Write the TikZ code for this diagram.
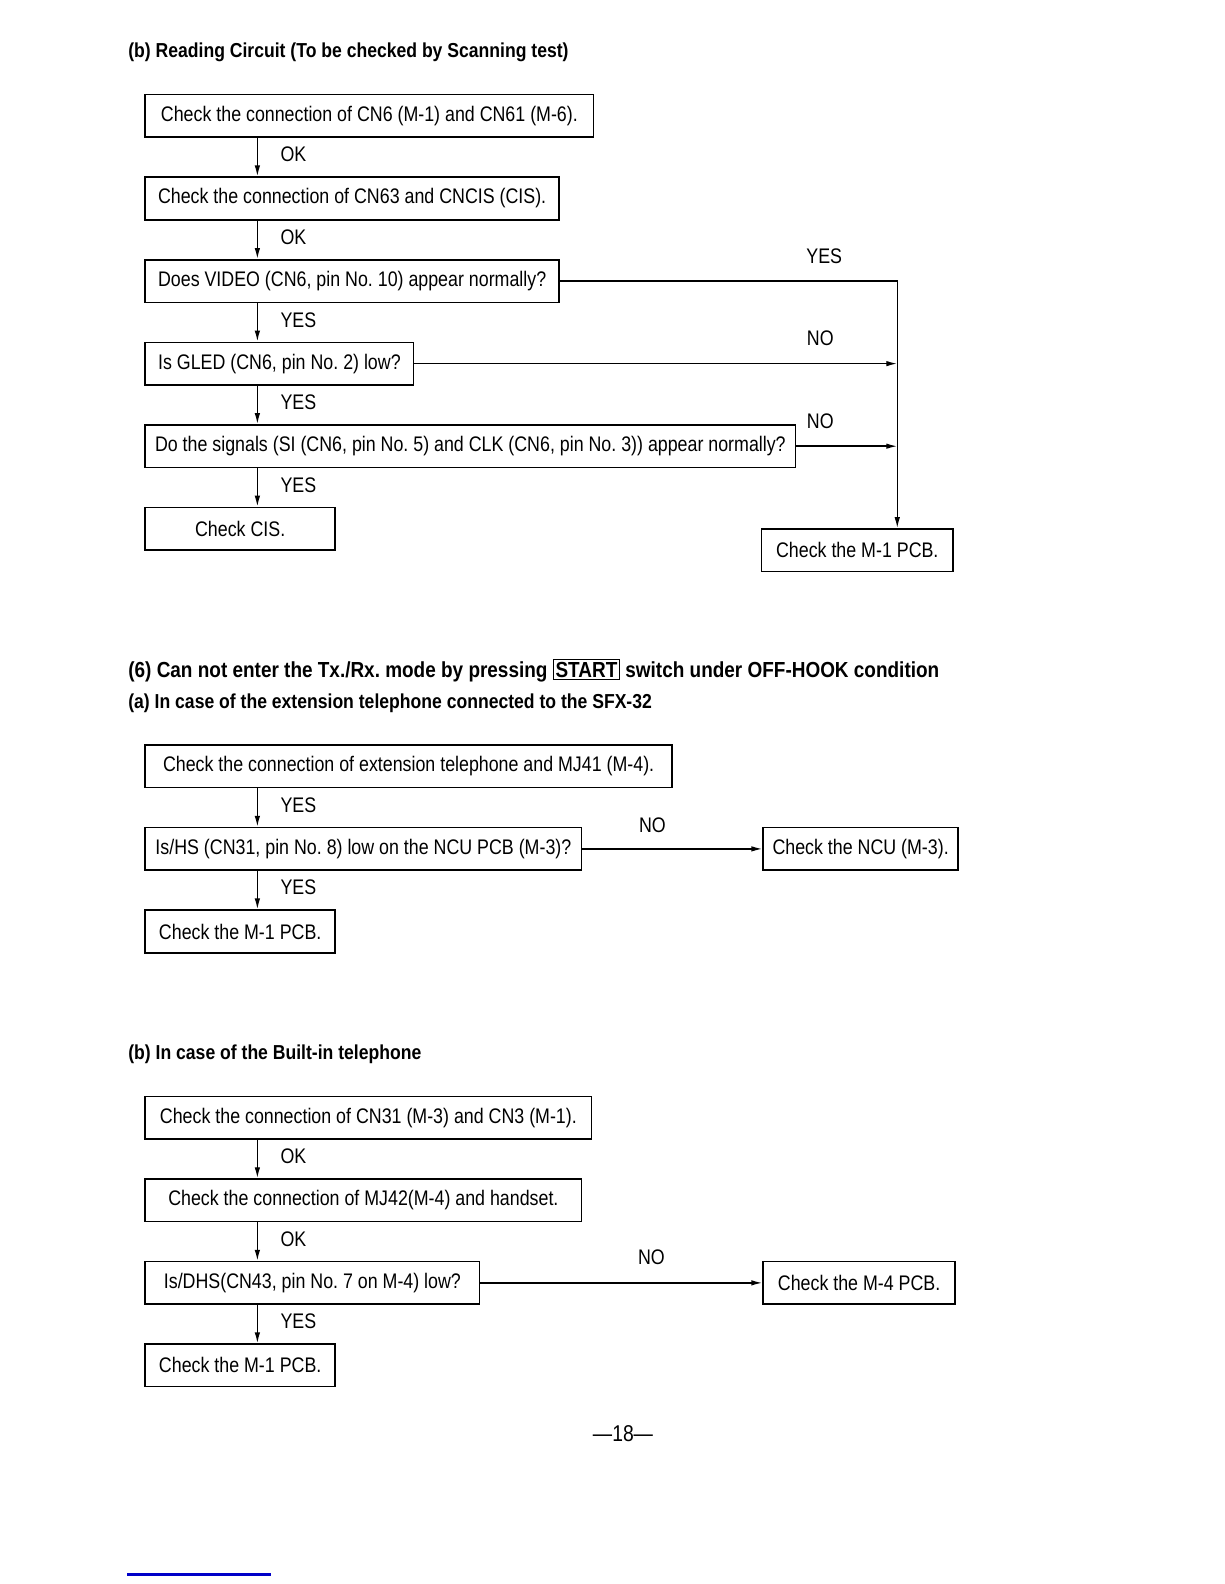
\documentclass[tikz,border=0pt]{standalone}
\usepackage{fontspec}
\setmainfont[FakeStretch=0.845]{Liberation Sans}
\newfontfamily\headfam[FakeStretch=0.87]{Liberation Sans}
\usetikzlibrary{arrows.meta, positioning}
\definecolor{rulerblue}{RGB}{0,0,200}
\newcommand{\boxfont}{\fontsize{12}{14}\selectfont}
\newcommand{\headfont}{\headfam\fontsize{11.5}{14}\selectfont\bfseries}
\newcommand{\bigheadfont}{\headfam\fontsize{12.4}{15}\selectfont\bfseries}
\tikzset{
  box/.style={draw, line width=0.9pt, anchor=north west, minimum height=0.85cm,
    inner xsep=0.1cm, inner ysep=0pt, font=\boxfont},
  arr/.style={line width=0.8pt, -{Latex[length=2.2mm, width=1.1mm]}},
  lbl/.style={font=\boxfont, inner sep=0pt},
  head/.style={anchor=west, inner sep=0pt},
}

\begin{document}
\frenchspacing
\begin{tikzpicture}[x=0.02cm, y=-0.02cm]
  \useasboundingbox (0,0) rectangle (1224,1584);

  % (b) reading circuit
  \node[head, font=\headfont] (t1) at (128,52.5) {(b) Reading Circuit (To be checked by Scanning test)};
  \node[box, minimum width=8.97cm] (b1) at (144.4,93.9) {Check the connection of CN6 (M-1) and CN61 (M-6).};
  \node[box, minimum width=8.28cm, below right=0.77cm and 0cm of b1.south west] (b2) {Check the connection of CN63 and CNCIS (CIS).};
  \node[box, minimum width=8.28cm, below right=0.77cm and 0cm of b2.south west] (b3) {Does VIDEO (CN6, pin No. 10) appear normally?};
  \node[box, minimum width=5.37cm, below right=0.77cm and 0cm of b3.south west] (b4) {Is GLED (CN6, pin No. 2) low?};
  \node[box, minimum width=13.01cm, below right=0.77cm and 0cm of b4.south west] (b5) {Do the signals (SI (CN6, pin No. 5) and CLK (CN6, pin No. 3)) appear normally?};
  \node[box, minimum width=3.80cm, below right=0.77cm and 0cm of b5.south west] (b6) {Check CIS.};
  \node[box, minimum width=3.84cm] (b7) at (760.5,528.2) {Check the M-1 PCB.};
  \coordinate (rail) at ([xshift=0.8cm]b7.north);

  \draw[arr] ([xshift=2.26cm]b1.south west) -- ([xshift=2.26cm]b2.north west)
    node[lbl, midway, right=0.45cm, yshift=0.05cm] {OK};
  \draw[arr] ([xshift=2.26cm]b2.south west) -- ([xshift=2.26cm]b3.north west)
    node[lbl, midway, right=0.45cm, yshift=0.05cm] {OK};
  \draw[arr] ([xshift=2.26cm]b3.south west) -- ([xshift=2.26cm]b4.north west)
    node[lbl, midway, right=0.45cm, yshift=0.05cm] {YES};
  \draw[arr] ([xshift=2.26cm]b4.south west) -- ([xshift=2.26cm]b5.north west)
    node[lbl, midway, right=0.45cm, yshift=0.05cm] {YES};
  \draw[arr] ([xshift=2.26cm]b5.south west) -- ([xshift=2.26cm]b6.north west)
    node[lbl, midway, right=0.45cm, yshift=0.05cm] {YES};

  \draw[arr] (b3.east) -| (rail)
    node[lbl, pos=0.5, xshift=-1.46cm, yshift=0.5cm] {YES};
  \draw[arr] (b4.east) -- (b4.east -| rail)
    node[lbl, pos=1, xshift=-1.54cm, yshift=0.5cm] {NO};
  \draw[arr] (b5.east) -- (b5.east -| rail)
    node[lbl, pos=1, xshift=-1.54cm, yshift=0.5cm] {NO};

  % (6) start switch
  \node[head, font=\bigheadfont] (t2) at (128,670.6) {(6) Can not enter the Tx./Rx. mode by pressing {\setlength\fboxsep{1pt}\setlength\fboxrule{0.6pt}\fbox{START}} switch under OFF-HOOK condition};
  \node[head, font=\headfont] (t3) at (128,702.9) {(a) In case of the extension telephone connected to the SFX-32};
  \node[box, minimum width=10.54cm] (a1) at (144.4,744.3) {Check the connection of extension telephone and MJ41 (M-4).};
  \node[box, minimum width=8.73cm, below right=0.77cm and 0cm of a1.south west] (a2) {Is/HS (CN31, pin No. 8) low on the NCU PCB (M-3)?};
  \node[box, minimum width=3.90cm, right=3.6cm of a2] (a3) {Check the NCU (M-3).};
  \node[box, minimum width=3.80cm, below right=0.77cm and 0cm of a2.south west] (a4) {Check the M-1 PCB.};

  \draw[arr] ([xshift=2.26cm]a1.south west) -- ([xshift=2.26cm]a2.north west)
    node[lbl, midway, right=0.45cm, yshift=0.05cm] {YES};
  \draw[arr] ([xshift=2.26cm]a2.south west) -- ([xshift=2.26cm]a4.north west)
    node[lbl, midway, right=0.45cm, yshift=0.05cm] {YES};
  \draw[arr] (a2) -- (a3)
    node[lbl, midway, xshift=-0.4cm, yshift=0.48cm] {NO};

  % (b) built-in telephone
  \node[head, font=\headfont] (t4) at (128,1054.3) {(b) In case of the Built-in telephone};
  \node[box, minimum width=8.93cm] (c1) at (144.4,1095.7) {Check the connection of CN31 (M-3) and CN3 (M-1).};
  \node[box, minimum width=8.73cm, below right=0.77cm and 0cm of c1.south west] (c2) {Check the connection of MJ42(M-4) and handset.};
  \node[box, minimum width=6.69cm, below right=0.77cm and 0cm of c2.south west] (c3) {Is/DHS(CN43, pin No. 7 on M-4) low?};
  \node[box, minimum width=3.84cm, right=5.64cm of c3] (c4) {Check the M-4 PCB.};
  \node[box, minimum width=3.80cm, below right=0.77cm and 0cm of c3.south west] (c5) {Check the M-1 PCB.};

  \draw[arr] ([xshift=2.26cm]c1.south west) -- ([xshift=2.26cm]c2.north west)
    node[lbl, midway, right=0.45cm, yshift=0.05cm] {OK};
  \draw[arr] ([xshift=2.26cm]c2.south west) -- ([xshift=2.26cm]c3.north west)
    node[lbl, midway, right=0.45cm, yshift=0.05cm] {OK};
  \draw[arr] ([xshift=2.26cm]c3.south west) -- ([xshift=2.26cm]c5.north west)
    node[lbl, midway, right=0.45cm, yshift=0.05cm] {YES};
  \draw[arr] (c3) -- (c4)
    node[lbl, midway, xshift=0.6cm, yshift=0.52cm] {NO};

  \node[font=\fontsize{13}{15}\selectfont, inner sep=0pt] (page) at (623,1434) {---18---};
  \draw[rulerblue, line width=1.3pt] (127,1574.4) -- (270.6,1574.4);
\end{tikzpicture}
\end{document}
